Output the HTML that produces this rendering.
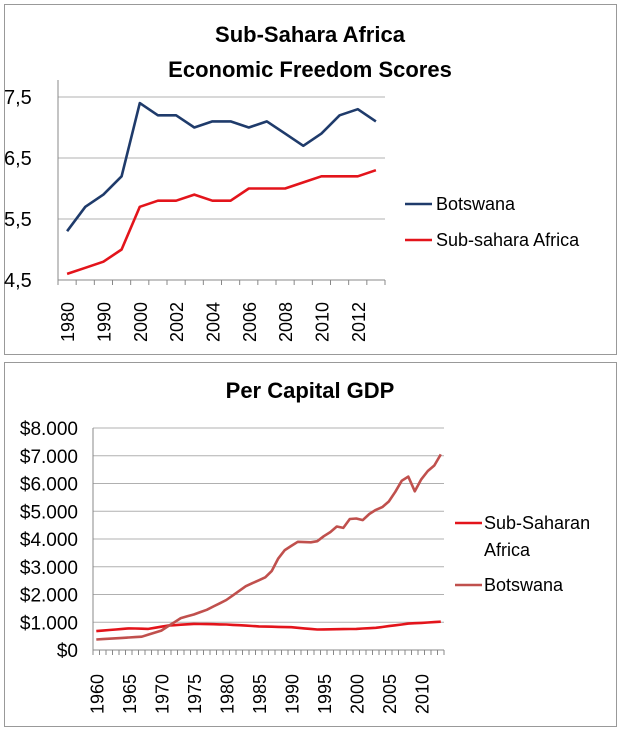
<!DOCTYPE html><html><head><meta charset="utf-8"><style>
body{margin:0;background:#fff;font-family:"Liberation Sans",sans-serif}
svg text{font-family:"Liberation Sans",sans-serif}
</style></head><body>
<svg id="s" width="626" height="731" xmlns="http://www.w3.org/2000/svg"></svg>
<script>
var s=document.getElementById('s'),h='';
h+='<rect x="0" y="0" width="626" height="731" fill="#fff"/>';
h+='<rect x="4.5" y="4.5" width="612" height="350" fill="none" stroke="#999"/>';
h+='<rect x="4.5" y="362.5" width="612" height="364" fill="none" stroke="#999"/>';
h+='<text x="310" y="42" font-size="22" font-weight="bold" text-anchor="middle">Sub-Sahara Africa</text>';
h+='<text x="310" y="77" font-size="22" font-weight="bold" text-anchor="middle">Economic Freedom Scores</text>';
var L=58,R=385,n=18,w=(R-L)/n;
function ty(v){return 280-(v-4.5)*61;}
[7.5,6.5,5.5].forEach(function(v){h+='<line x1="'+L+'" x2="'+R+'" y1="'+ty(v)+'" y2="'+ty(v)+'" stroke="#b0b0b0"/>';});
h+='<line x1="'+L+'" x2="'+L+'" y1="80" y2="280" stroke="#888"/><line x1="'+L+'" x2="'+R+'" y1="280" y2="280" stroke="#888"/>';
for(var i=0;i<=n;i++){var x=L+i*w;h+='<line x1="'+x+'" x2="'+x+'" y1="280" y2="285" stroke="#888"/>';}
['7,5','6,5','5,5','4,5'].forEach(function(t,i){h+='<text x="4" y="'+(ty(7.5-i)+7)+'" font-size="20">'+t+'</text>';});
var labs=['1980','','1990','','2000','','2002','','2004','','2006','','2008','','2010','','2012',''];
labs.forEach(function(t,i){if(!t)return;var x=L+(i+0.5)*w+7;h+='<text transform="translate('+x+',342) rotate(-90)" font-size="18">'+t+'</text>';});
var bw=[5.3,5.7,5.9,6.2,7.4,7.2,7.2,7.0,7.1,7.1,7.0,7.1,6.9,6.7,6.9,7.2,7.3,7.1];
var ss=[4.6,4.7,4.8,5.0,5.7,5.8,5.8,5.9,5.8,5.8,6.0,6.0,6.0,6.1,6.2,6.2,6.2,6.3];
function pl(a,c){return '<polyline fill="none" stroke="'+c+'" stroke-width="2.6" stroke-linejoin="round" points="'+a.map(function(v,i){return (L+(i+0.5)*w).toFixed(1)+','+ty(v).toFixed(1)}).join(' ')+'"/>';}
h+=pl(bw,'#1f3b6b')+pl(ss,'#e3141b');
h+='<line x1="405" x2="432" y1="204" y2="204" stroke="#1f3b6b" stroke-width="2.6"/><text x="436" y="210" font-size="18">Botswana</text>';
h+='<line x1="405" x2="432" y1="240" y2="240" stroke="#e3141b" stroke-width="2.6"/><text x="436" y="246" font-size="18">Sub-sahara Africa</text>';
h+='<text x="310" y="398" font-size="22" font-weight="bold" text-anchor="middle">Per Capital GDP</text>';
var L2=93,R2=444,n2=54,w2=(R2-L2)/n2;
function by(v){return 650-v*0.02775;}
for(var k=1;k<=8;k++)h+='<line x1="'+L2+'" x2="'+R2+'" y1="'+by(k*1000)+'" y2="'+by(k*1000)+'" stroke="#b0b0b0"/>';
h+='<line x1="'+L2+'" x2="'+L2+'" y1="428" y2="650" stroke="#888"/><line x1="'+L2+'" x2="'+R2+'" y1="650" y2="650" stroke="#888"/>';
for(var i=0;i<=n2;i++){var x=L2+i*w2;h+='<line x1="'+x.toFixed(1)+'" x2="'+x.toFixed(1)+'" y1="650" y2="655" stroke="#888"/>';}
['$8.000','$7.000','$6.000','$5.000','$4.000','$3.000','$2.000','$1.000','$0'].forEach(function(t,i){h+='<text x="78" y="'+(by((8-i)*1000)+7)+'" font-size="19" text-anchor="end">'+t+'</text>';});
for(var yr=1960;yr<=2010;yr+=5){var i=yr-1960,x=L2+(i+0.5)*w2+7;h+='<text transform="translate('+x.toFixed(1)+',714) rotate(-90)" font-size="18">'+yr+'</text>';}
function interp(kp){var out=[];for(var y=1960;y<=2013;y++){for(var j=0;j<kp.length-1;j++){if(y>=kp[j][0]&&y<=kp[j+1][0]){var t=(y-kp[j][0])/(kp[j+1][0]-kp[j][0]);out.push(kp[j][1]+t*(kp[j+1][1]-kp[j][1]));break;}}}return out;}
var bg=interp([[1960,380],[1967,480],[1970,700],[1973,1150],[1975,1280],[1977,1450],[1980,1800],[1983,2300],[1986,2620],[1987,2850],[1988,3300],[1989,3600],[1990,3750],[1991,3900],[1993,3880],[1994,3920],[1995,4100],[1996,4250],[1997,4450],[1998,4400],[1999,4720],[2000,4740],[2001,4680],[2002,4900],[2003,5050],[2004,5150],[2005,5350],[2006,5700],[2007,6100],[2008,6250],[2009,5720],[2010,6150],[2011,6450],[2012,6650],[2013,7050]]);
var sg=interp([[1960,680],[1965,780],[1968,760],[1971,880],[1975,940],[1980,920],[1985,850],[1990,820],[1994,740],[2000,760],[2003,800],[2008,950],[2013,1020]]);
function pl2(a,c){return '<polyline fill="none" stroke="'+c+'" stroke-width="2.6" stroke-linejoin="round" points="'+a.map(function(v,i){return (L2+(i+0.5)*w2).toFixed(1)+','+by(v).toFixed(1)}).join(' ')+'"/>';}
h+=pl2(sg,'#e3141b')+pl2(bg,'#c0504d');
h+='<line x1="455" x2="482" y1="523" y2="523" stroke="#e3141b" stroke-width="2.6"/><text x="484" y="529" font-size="18">Sub-Saharan</text><text x="484" y="556" font-size="18">Africa</text>';
h+='<line x1="455" x2="482" y1="585" y2="585" stroke="#c0504d" stroke-width="2.6"/><text x="484" y="591" font-size="18">Botswana</text>';
s.innerHTML=h;
</script>
</body></html>
